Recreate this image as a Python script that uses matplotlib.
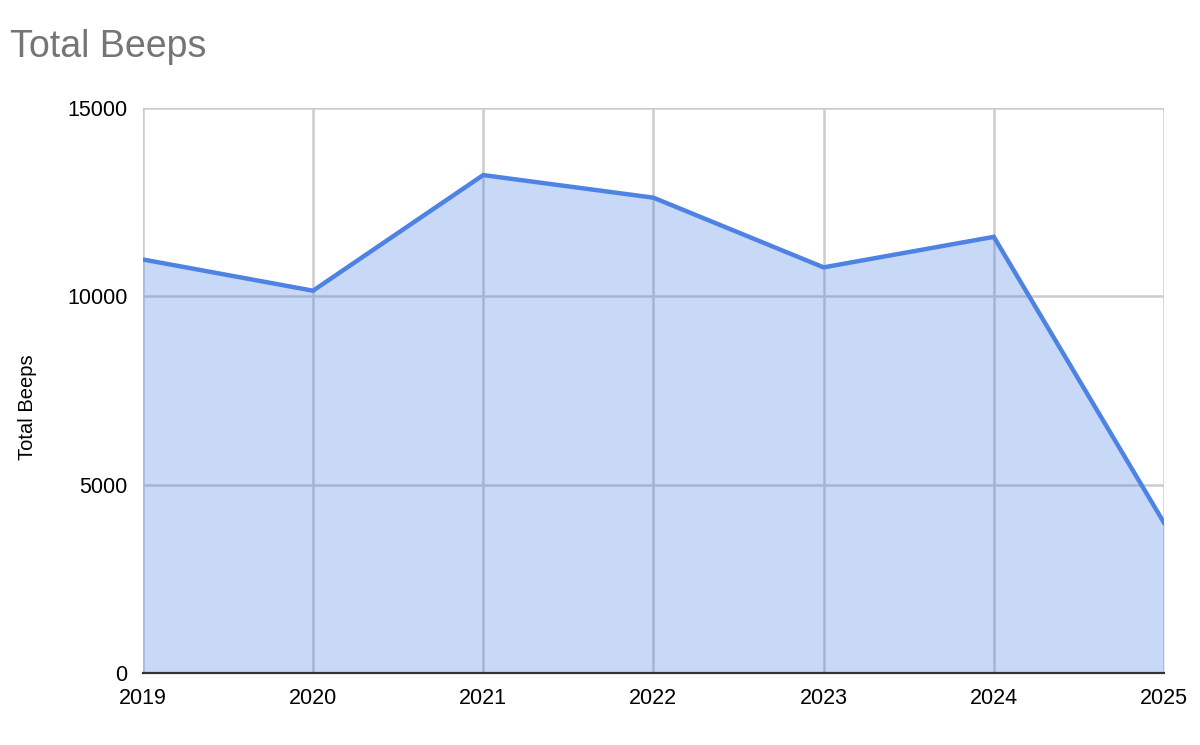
import matplotlib.pyplot as plt

# Data
years = [2019, 2020, 2021, 2022, 2023, 2024, 2025]
beeps = [10980, 10150, 13220, 12620, 10770, 11580, 3990]
y_ticks = [0, 5000, 10000, 15000]

plt.rcParams['font.family'] = ['Liberation Sans', 'DejaVu Sans']

fig = plt.figure(figsize=(12, 7.45), dpi=100)
ax = fig.add_axes([0.119, 0.0966, 0.851, 0.7584])

line_color = '#4f83e3'
ax.fill_between(years, beeps, 0, color='#4a7fe6', alpha=0.3, linewidth=0, zorder=2)
ax.plot(years, beeps, color=line_color, linewidth=3.2, solid_joinstyle='miter', zorder=3)

ax.set_xlim(years[0], years[-1])
ax.set_ylim(0, 15000)
ax.set_xticks(years)
ax.set_yticks(y_ticks)
ax.set_xticklabels([str(y) for y in years])
ax.set_yticklabels([str(t) for t in y_ticks])
ax.tick_params(axis='both', length=0, labelsize=15.5, colors='#000000')
ax.tick_params(axis='x', pad=11)
ax.tick_params(axis='y', pad=11)

ax.grid(True, color='#cccccc', linewidth=1.8, zorder=1)
ax.set_axisbelow(True)
for side in ['top', 'right', 'left']:
    ax.spines[side].set_visible(False)
ax.spines['bottom'].set_color('#333333')
ax.spines['bottom'].set_linewidth(1.6)
ax.spines['bottom'].set_zorder(4)

ax.set_ylabel('Total Beeps', fontsize=14.5)
ax.yaxis.set_label_coords(-0.104, 0.47)

fig.text(0.008, 0.937, 'Total Beeps', fontsize=27, color='#757575', ha='left', va='center')

fig.savefig('out.png', dpi=100)
